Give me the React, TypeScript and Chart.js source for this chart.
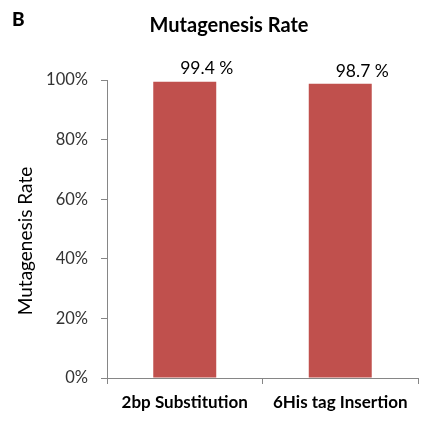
import React, { useEffect, useRef } from "react";
import { Chart, registerables } from "chart.js";

Chart.register(...registerables);

const categories = ["2bp Substitution", "6His tag Insertion"];
const rates = [99.4, 98.7];
const rateLabels = ["99.4 %", "98.7 %"];
const yTicks = [0, 20, 40, 60, 80, 100];

const FONT = "Lato, 'Open Sans', sans-serif";

const overlay = {
  id: "overlay",
  afterDraw(chart: any) {
    const ctx = chart.ctx;
    ctx.save();
    ctx.fillStyle = "#000";
    ctx.textBaseline = "middle";
    ctx.font = `900 19px ${FONT}`;
    ctx.textAlign = "left";
    ctx.fillText("B", 12, 20);
    ctx.font = `bold 20px ${FONT}`;
    ctx.textAlign = "center";
    ctx.fillText("Mutagenesis Rate", 229, 26);
    ctx.font = `17.5px ${FONT}`;
    const meta = chart.getDatasetMeta(0);
    meta.data.forEach((bar: any, i: number) => {
      ctx.fillText(rateLabels[i], bar.x + 22, bar.y - 13);
    });
    ctx.translate(26, 241);
    ctx.rotate(-Math.PI / 2);
    ctx.font = `19px ${FONT}`;
    ctx.fillText("Mutagenesis Rate", 0, 0);
    ctx.restore();
  },
};

export default function App() {
  const ref = useRef<HTMLCanvasElement>(null);
  useEffect(() => {
    document.body.style.margin = "0";
    const chart = new Chart(ref.current!, {
      type: "bar",
      data: {
        labels: categories,
        datasets: [
          {
            data: rates,
            backgroundColor: "#C0504D",
            categoryPercentage: 1,
            barPercentage: 0.405,
          },
        ],
      },
      options: {
        animation: false,
        responsive: false,
        devicePixelRatio: 1,
        layout: { padding: { top: 80, right: 29, left: 0, bottom: 0 } },
        plugins: {
          legend: { display: false },
          title: { display: false },
          tooltip: { enabled: false },
        },
        scales: {
          x: {
            grid: {
              offset: true,
              drawOnChartArea: false,
              drawTicks: true,
              tickLength: 6,
              color: "#868686",
            },
            border: { display: true, color: "#868686" },
            ticks: {
              color: "#000",
              font: { family: FONT, size: 17, weight: "bold" },
              padding: 8,
              maxRotation: 0,
            },
            afterFit(scale: any) {
              scale.height = 45;
            },
          },
          y: {
            min: 0,
            max: 100,
            afterBuildTicks(scale: any) {
              scale.ticks = yTicks.map((v) => ({ value: v }));
            },
            grid: {
              drawOnChartArea: false,
              drawTicks: true,
              tickLength: 6,
              color: "#868686",
            },
            border: { display: true, color: "#868686" },
            ticks: {
              color: "#333",
              font: { family: FONT, size: 16.5 },
              padding: 13,
              callback: (v: any) => `${v}%`,
            },
            afterFit(scale: any) {
              scale.width = 107;
            },
          },
        },
      },
      plugins: [overlay],
    });
    return () => chart.destroy();
  }, []);
  return (
    <div style={{ position: "absolute", left: 0, top: 0, background: "#fff" }}>
      <canvas ref={ref} width={447} height={423} />
    </div>
  );
}
